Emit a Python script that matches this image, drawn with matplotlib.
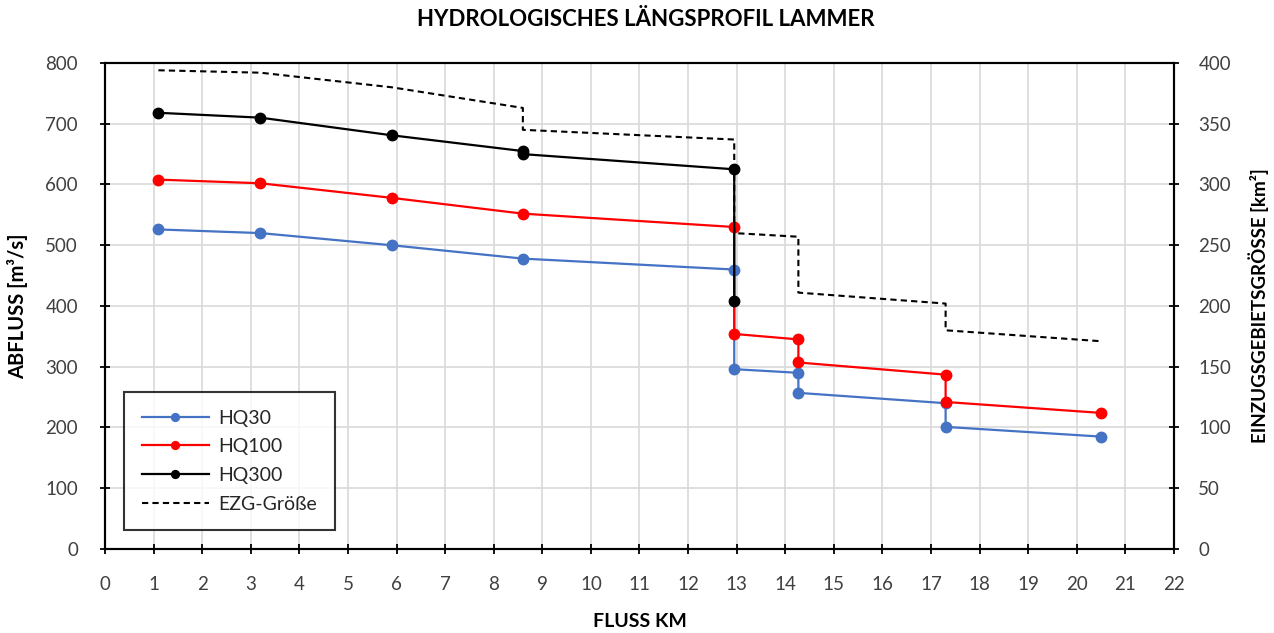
import matplotlib
matplotlib.use("Agg")
import matplotlib.pyplot as plt

plt.rcParams['font.family'] = ['Lato', 'DejaVu Sans']

# Data
hq30_km = [1.1, 3.2, 5.9, 8.6, 12.95, 12.95, 14.27, 14.27, 17.3, 17.3, 20.5]
hq30_q = [526, 520, 500, 478, 460, 296, 290, 257, 240, 201, 185]

hq100_km = [1.1, 3.2, 5.9, 8.6, 12.95, 12.95, 14.27, 14.27, 17.3, 17.3, 20.5]
hq100_q = [608, 602, 578, 552, 530, 354, 345, 307, 287, 242, 224]

hq300_km = [1.1, 3.2, 5.9, 8.6, 8.6, 12.95, 12.95]
hq300_q = [718, 710, 681, 655, 650, 625, 409]

ezg_km = [1.1, 3.2, 5.9, 8.6, 8.6, 12.95, 12.95, 14.27, 14.27, 17.3, 17.3, 20.5]
ezg_a = [394, 392, 380, 363, 345, 337, 260, 257, 211, 202, 180, 171]

x_ticks = list(range(0, 23))
y_ticks = list(range(0, 801, 100))
y2_ticks = list(range(0, 401, 50))

fig = plt.figure(figsize=(12.74, 6.33), dpi=100)
ax = fig.add_axes([0.0824, 0.1327, 0.8391, 0.7678])
ax2 = ax.twinx()

ax.plot(hq30_km, hq30_q, color='#4472C4', lw=1.6, marker='o', ms=7.5, label='HQ30', zorder=3)
ax.plot(hq100_km, hq100_q, color='#FF0000', lw=1.6, marker='o', ms=7.5, label='HQ100', zorder=4)
ax.plot(hq300_km, hq300_q, color='black', lw=1.6, marker='o', ms=7.5, label='HQ300', zorder=5)
l4, = ax2.plot(ezg_km, ezg_a, color='black', lw=1.5, linestyle=(0, (3, 2)), label='EZG-Größe')

ax.set_xlim(0, 22)
ax.set_ylim(0, 800)
ax2.set_ylim(0, 400)
ax.set_xticks(x_ticks)
ax.set_yticks(y_ticks)
ax2.set_yticks(y2_ticks)
ax.grid(True, color='#d9d9d9', lw=1.2)
ax.set_axisbelow(True)

for a in (ax, ax2):
    for s in a.spines.values():
        s.set_linewidth(1.5)
        s.set_color('black')
    a.tick_params(direction='inout', length=7, width=1.3, labelsize=13.5, colors='black',
                  labelcolor='#404040')
ax.tick_params(axis='x', pad=16)
ax.tick_params(axis='y', pad=16)
ax2.tick_params(axis='y', pad=14)

ax.set_xlabel('FLUSS KM', fontsize=14, fontweight='bold', labelpad=14)
ax.set_ylabel('ABFLUSS [m³/s]', fontsize=14.5, fontweight='bold', labelpad=12)
ax2.set_ylabel('EINZUGSGEBIETSGRÖSSE [km²]', fontsize=13.5, fontweight='bold', labelpad=12)
fig.suptitle('HYDROLOGISCHES LÄNGSPROFIL LAMMER', x=0.507, y=0.985, fontsize=16, fontweight='bold')

h, l = ax.get_legend_handles_labels()
leg = ax2.legend(h + [l4], l + ['EZG-Größe'], loc='lower left', bbox_to_anchor=(0.018, 0.039),
                 fontsize=14, frameon=True, fancybox=False, edgecolor='black',
                 labelspacing=0.6, handlelength=3.45, handletextpad=0.5, borderpad=0.9,
                 borderaxespad=0, markerscale=0.75)
leg.get_frame().set_linewidth(1.5)
for t in leg.get_texts():
    t.set_color('#262626')

fig.savefig('out.png', dpi=100)
